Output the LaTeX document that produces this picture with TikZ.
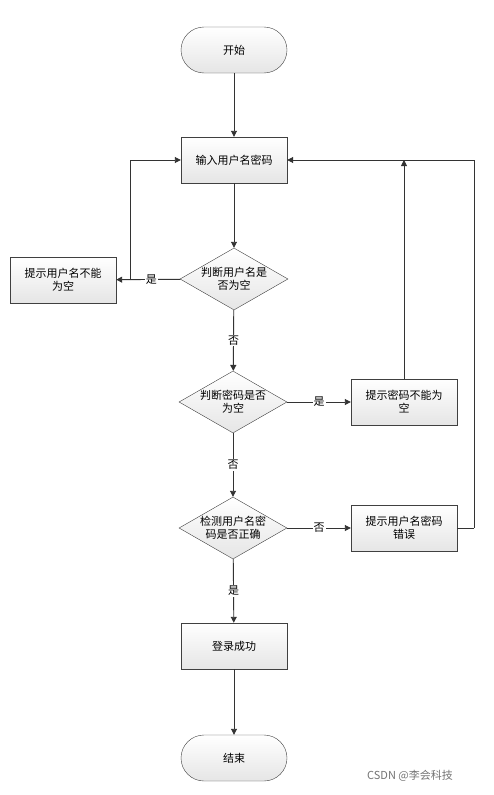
\documentclass[tikz,border=0pt]{standalone}
\usepackage{fontspec}
\newfontfamily\cjk{Noto Sans CJK SC}
\usetikzlibrary{shapes.geometric,arrows.meta}
\begin{document}
\begin{tikzpicture}[x=1pt,y=-1pt,font=\cjk\fontsize{11}{13}\selectfont,
 box/.style={draw=black!75,top color=white,bottom color=black!10,minimum width=106pt,minimum height=46pt,align=center},
 wbox/.style={box,text width=96pt},
 term/.style={box,rounded corners=23pt},
 dia/.style={draw=black!75,top color=white,bottom color=black!10,diamond,aspect=1.75,minimum width=108pt,minimum height=62pt,inner sep=-4pt,align=center},
 arr/.style={draw=black!80,line width=0.9pt,-{Triangle[length=6pt,width=6pt]}},
 lab/.style={fill=white,inner sep=1pt}]
\useasboundingbox (0,0) rectangle (494,795);
\node[term] (start) at (234,50) {开始};
\node[box] (in) at (234,160) {输入用户名密码};
\node[dia] (d1) at (234,279) {判断用户名是\\否为空};
\node[wbox] (lb) at (63,280) {提示用户名不能\\为空};
\node[dia] (d2) at (233,402) {判断密码是否\\为空};
\node[wbox] (rb1) at (404,402) {提示密码不能为\\空};
\node[dia] (d3) at (233,528) {检测用户名密\\码是否正确};
\node[wbox] (rb2) at (404,528) {提示用户名密码\\错误};
\node[box] (ok) at (234,646) {登录成功};
\node[term] (end) at (234,758) {结束};
\coordinate (c1) at (130,280);
\coordinate (c2) at (130,160);
\coordinate (c3) at (404,160);
\coordinate (c4) at (474,528);
\coordinate (c5) at (474,160);
\draw[arr] (start) -- (in);
\draw[arr] (in) -- (d1);
\draw[arr] (d1) -- node[lab,pos=0.45]{是} (lb);
\draw[arr] (c1) -- (c2) -- (in.west);
\draw[arr] (d1) -- node[lab]{否} (d2);
\draw[arr] (d2) -- node[lab]{是} (rb1);
\draw[arr] (rb1) -- (c3);
\draw[arr] (c4) -- (c5) -- (in.east);
\draw[line width=0.9pt,draw=black!80] (rb2.east) -- (c4);
\draw[arr] (d2) -- node[lab]{否} (d3);
\draw[arr] (d3) -- node[lab]{否} (rb2);
\draw[arr] (d3) -- node[lab]{是} (ok);
\draw[arr] (ok) -- (end);
\node[text=black!55,font=\cjk\fontsize{11}{13}\selectfont] (wm) at (410,776) {CSDN @李会科技};
\end{tikzpicture}
\end{document}
